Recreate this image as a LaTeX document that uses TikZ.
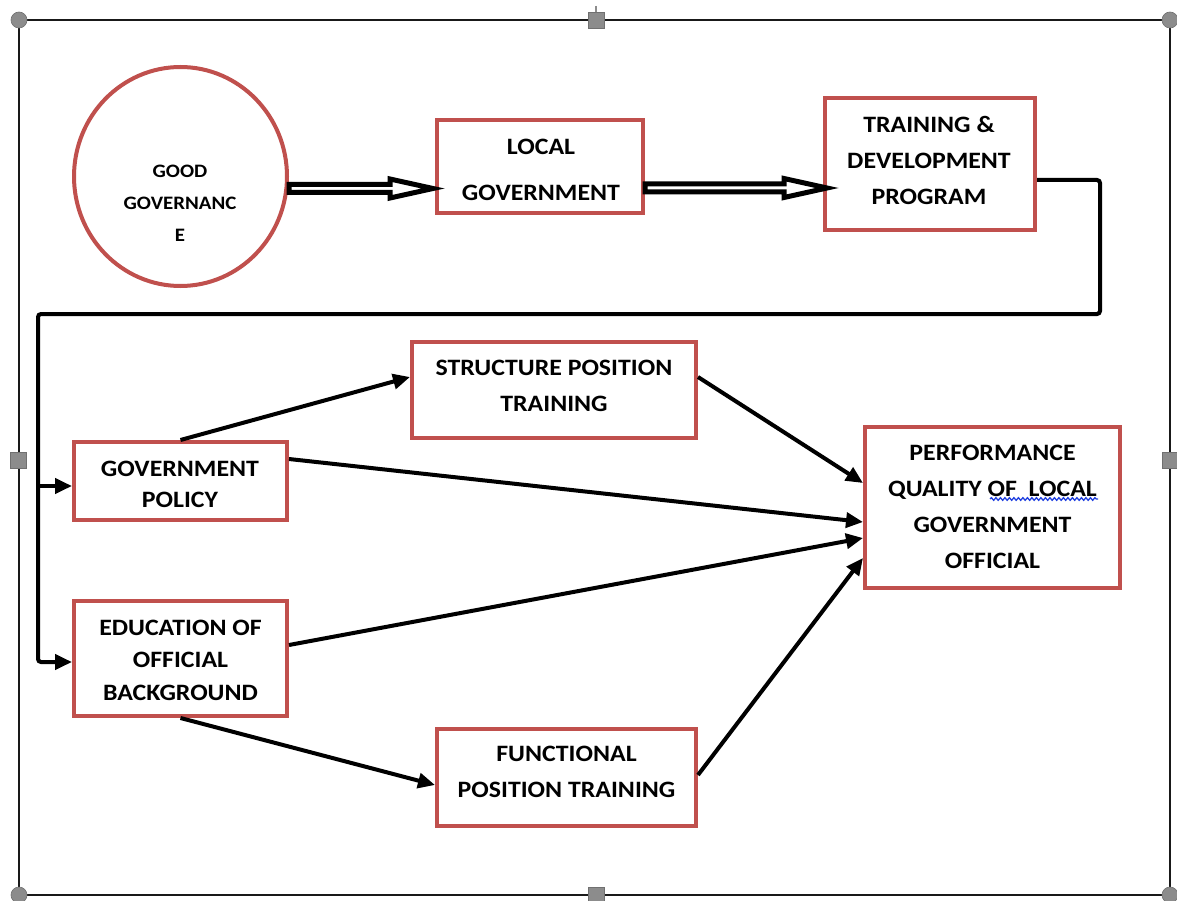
\documentclass[tikz,border=0pt]{standalone}
\usepackage{fontspec}
\setmainfont{Carlito}[FakeStretch=1.1]
\usetikzlibrary{arrows.meta,calc,shapes.geometric,decorations.pathmorphing}
\definecolor{boxred}{HTML}{C0504D}
\definecolor{handlegray}{HTML}{8C8C8C}
\definecolor{squiggle}{HTML}{2040E0}
\begin{document}
\begin{tikzpicture}[x=1pt,y=-1pt,
  box/.style={draw=boxred, line width=4pt, fill=white, inner sep=0pt, outer sep=2pt},
  txt/.style={align=center, inner sep=0pt},
  f36/.style={font=\bfseries\fontsize{23.5}{36}\selectfont},
  conn/.style={line width=4pt, draw=black, line cap=butt},
  tipped/.style={-{Triangle[length=17pt,width=15pt]}},
  hollow/.style={draw=black, fill=white, line width=5pt, line join=miter,
    to path={let \p1=(\tikztostart), \p2=(\tikztotarget) in
      (\x1,\y1+4pt) -- (\x2-43pt,\y1+4pt) -- (\x2-43pt,\y1+9.5pt) -- (\x2,\y1)
      -- (\x2-43pt,\y1-9.5pt) -- (\x2-43pt,\y1-4pt) -- (\x1,\y1-4pt) -- cycle}},
  handle/.style={fill=handlegray, draw=handlegray!80!black, line width=0.6pt}
]
\useasboundingbox (0,0) rectangle (1177,901);
\fill[white] (0,0) rectangle (1177,901);
% selection frame
\draw[line width=2pt, black!90] (19,20) rectangle (1170,895);
\draw[line width=1.2pt, handlegray] (596,6) -- (596,12);
\foreach \p in {(19,20),(1170,20),(19,895),(1170,895)} \path[handle] \p circle (8);
\foreach \p in {(596,20),(18,460),(1170,460),(596,895)} \path[handle] \p ++(-8,-8) rectangle ++(16,16);

% shapes
\node[draw=boxred, line width=4pt, ellipse, fill=white, inner sep=0pt, outer sep=2pt,
      minimum width=213pt, minimum height=219pt] (gg) at (180.5,176.5) {};
\node[box, minimum width=206pt, minimum height=93pt] (lg) at (540,166.5) {};
\node[box, minimum width=210pt, minimum height=132pt] (tr) at (930,164) {};
\node[box, minimum width=284pt, minimum height=96pt] (st) at (554,390) {};
\node[box, minimum width=213pt, minimum height=78pt] (gp) at (180.5,481) {};
\node[box, minimum width=255pt, minimum height=161pt] (pf) at (992.5,507.5) {};
\node[box, minimum width=213pt, minimum height=115pt] (edu) at (180.5,658.5) {};
\node[box, minimum width=259pt, minimum height=97pt] (fn) at (566.5,777.5) {};

% texts
\node[txt, font=\bfseries\fontsize{19}{32}\selectfont] (ggt) at (180,203) {GOOD\\GOVERNANC\\E};
\node[txt, font=\bfseries\fontsize{23.5}{46}\selectfont] (lgt) at (541,170) {LOCAL\\GOVERNMENT};
\node[txt, f36] (trt) at (929,160.5) {TRAINING \&\\DEVELOPMENT\\PROGRAM};
\node[txt, f36] (stt) at (554,385.5) {STRUCTURE POSITION\\TRAINING};
\node[txt, font=\bfseries\fontsize{23.5}{31}\selectfont] (gpt) at (180,484) {GOVERNMENT\\POLICY};
\node[txt, f36] (pft) at (992.5,506.5) {PERFORMANCE\\QUALITY OF\ \ LOCAL\\GOVERNMENT\\OFFICIAL};
\node[txt, font=\bfseries\fontsize{23.5}{32.5}\selectfont] (edut) at (180.5,660) {EDUCATION OF\\OFFICIAL\\BACKGROUND};
\node[txt, f36] (fnt) at (566.5,771.5) {FUNCTIONAL\\POSITION TRAINING};

% spell-check squiggle
\draw[squiggle, line width=1.3pt, decorate, decoration={snake, amplitude=1.3pt, segment length=4.5pt}] (990,499) -- (1098,499);

% hollow double arrows
\path[hollow] ([yshift=-12pt]gg.east) to ([xshift=-2pt]lg.west);
\path[hollow] ([yshift=-21.5pt]lg.east) to ([xshift=4pt]tr.west);

% elbow connector
\coordinate (c1) at (1100,314);
\coordinate (c2) at (38,314);
\coordinate (gpin) at ([yshift=-5pt]gp.west);
\draw[conn, tipped, rounded corners=3pt] ([yshift=-16pt]tr.east) -| (c1) -- (c2) |- ([yshift=-3.5pt]edu.west);
\draw[conn, tipped] (c2 |- gpin) -- (gpin);

% arrows
\draw[conn, tipped] (gp.north) -- ([yshift=13pt]st.west);
\draw[conn, tipped] ([yshift=13pt]st.east) -- ([yshift=24.5pt]pf.west);
\draw[conn, tipped] ([yshift=22pt]gp.east) -- ([yshift=-14.5pt]pf.west);
\draw[conn, tipped] ([yshift=13.5pt]edu.east) -- ([yshift=-30.5pt]pf.west);
\draw[conn, tipped] (edu.south) -- ([yshift=-7.5pt]fn.west);
\draw[conn, tipped] ([yshift=2.5pt]fn.east) -- ([yshift=-50.5pt]pf.west);
\end{tikzpicture}
\end{document}
